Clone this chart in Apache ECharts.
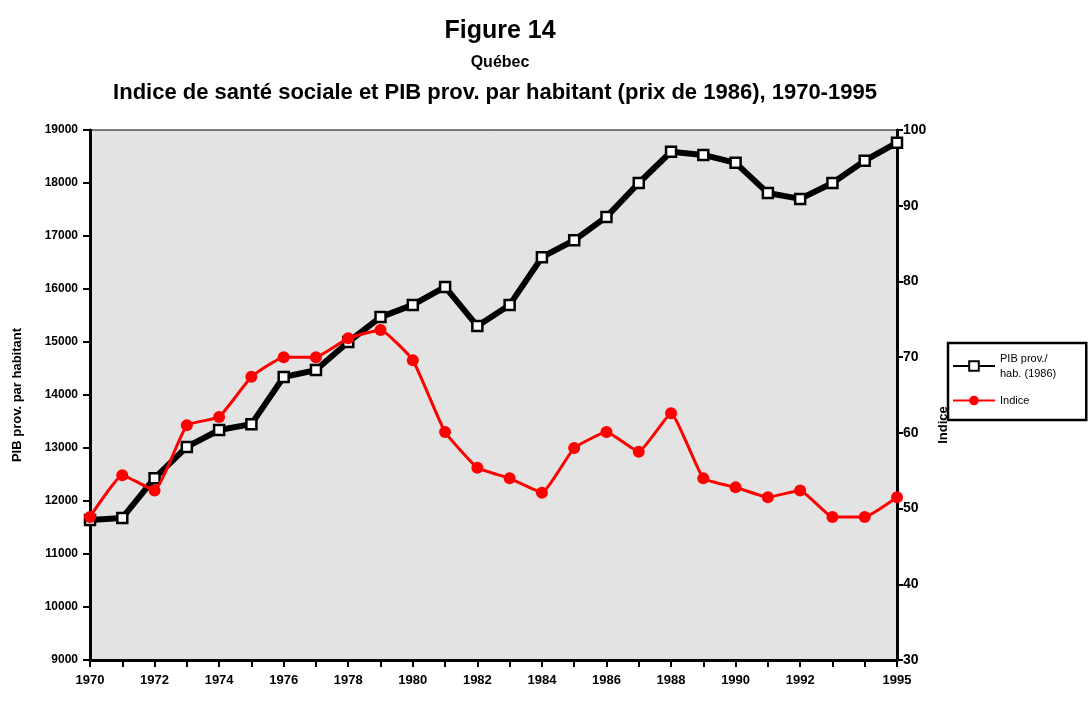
<!DOCTYPE html>
<html lang="fr">
<head>
    <meta charset="UTF-8">
    <script src="https://cdn.jsdelivr.net/npm/echarts@6/dist/echarts.min.js"></script>
    <title>Figure 14 - Québec</title>
    <style>
        html, body { margin: 0; height: 100%; background: #fff; }
        #container { width: 1090px; height: 702px; }
    </style>
</head>
<body>
<div id="container"></div>
<script type="application/javascript">
    // années 1970-1995
    const years = ['1970', '1971', '1972', '1973', '1974', '1975', '1976', '1977', '1978', '1979',
        '1980', '1981', '1982', '1983', '1984', '1985', '1986', '1987', '1988', '1989',
        '1990', '1991', '1992', '1993', '1994', '1995'];

    // PIB prov. par habitant (prix de 1986)
    const pib = [11640, 11680, 12430, 13020, 13340, 13450, 14340, 14470, 15000, 15470,
        15700, 16040, 15300, 15700, 16600, 16920, 17360, 18000, 18590, 18530,
        18380, 17810, 17700, 18000, 18420, 18760];

    // Indice de santé sociale
    const indice = [48.9, 54.4, 52.4, 61.0, 62.1, 67.4, 70.0, 70.0, 72.5, 73.6,
        69.6, 60.1, 55.4, 54.0, 52.1, 58.0, 60.1, 57.5, 62.6, 54.0,
        52.8, 51.5, 52.4, 48.9, 48.9, 51.5];

    const shownYears = ['1970', '1972', '1974', '1976', '1978', '1980', '1982', '1984',
        '1986', '1988', '1990', '1992', '1995'];

    const font = 'Liberation Sans';
    const chart = echarts.init(document.getElementById('container'), null, {renderer: 'canvas'});

    const option = {
        animation: false,
        title: [
            {
                text: 'Figure 14',
                left: 495, top: 14, textAlign: 'center',
                textStyle: {fontFamily: font, fontSize: 25, fontWeight: 'bold', color: '#000'}
            },
            {
                text: 'Québec',
                left: 495, top: 50, textAlign: 'center',
                textStyle: {fontFamily: font, fontSize: 16, fontWeight: 'bold', color: '#000'}
            },
            {
                text: 'Indice de santé sociale et PIB prov. par habitant (prix de 1986), 1970-1995',
                left: 490, top: 77, textAlign: 'center',
                textStyle: {fontFamily: font, fontSize: 22, fontWeight: 'bold', color: '#000'}
            }
        ],
        legend: {
            orient: 'vertical',
            left: 948, top: 343,
            width: 140,
            padding: [8, 30, 12, 4],
            itemGap: 12,
            itemWidth: 42, itemHeight: 12,
            borderColor: '#000', borderWidth: 2.5,
            backgroundColor: '#fff',
            textStyle: {fontFamily: font, fontSize: 11, color: '#000', lineHeight: 15},
            data: ['PIB prov./\nhab. (1986)', 'Indice']
        },
        grid: {
            left: 90, right: 193, top: 130, bottom: 42,
            show: true,
            backgroundColor: '#e3e3e3',
            borderColor: '#000', borderWidth: 1
        },
        xAxis: {
            type: 'category',
            data: years,
            boundaryGap: false,
            axisLine: {lineStyle: {color: '#000', width: 3}},
            axisTick: {interval: 0, length: 7, lineStyle: {color: '#000', width: 2}},
            axisLabel: {
                interval: 0,
                margin: 14,
                fontFamily: font, fontSize: 13, fontWeight: 'bold', color: '#000',
                formatter: function (v) {
                    return shownYears.indexOf(v) >= 0 ? v : '';
                }
            }
        },
        yAxis: [
            {
                type: 'value',
                min: 9000, max: 19000, interval: 1000,
                name: 'PIB prov. par habitant',
                nameLocation: 'middle',
                nameGap: 66,
                nameRotate: 90,
                nameTextStyle: {fontFamily: font, fontSize: 13, fontWeight: 'bold', color: '#000'},
                axisLine: {show: true, lineStyle: {color: '#000', width: 3}},
                axisTick: {show: true, length: 7, lineStyle: {color: '#000', width: 2}},
                splitLine: {show: false},
                axisLabel: {
                    fontFamily: font, fontSize: 12, fontWeight: 'bold', color: '#000', margin: 12,
                    formatter: function (v) { return String(v); }
                }
            },
            {
                type: 'value',
                min: 30, max: 100, interval: 10,
                position: 'right',
                name: 'Indice',
                nameLocation: 'middle',
                nameGap: 40,
                nameRotate: 90,
                nameTextStyle: {fontFamily: font, fontSize: 13, fontWeight: 'bold', color: '#000', padding: [0, 0, 0, -60]},
                axisLine: {show: true, lineStyle: {color: '#000', width: 3}},
                axisTick: {show: true, length: 6, lineStyle: {color: '#000', width: 2}},
                splitLine: {show: false},
                axisLabel: {fontFamily: font, fontSize: 14, fontWeight: 'bold', color: '#000', margin: 6}
            }
        ],
        series: [
            {
                name: 'PIB prov./\nhab. (1986)',
                type: 'line',
                yAxisIndex: 0,
                data: pib,
                symbol: 'rect',
                symbolSize: 10,
                lineStyle: {color: '#000', width: 6},
                itemStyle: {color: '#fff', borderColor: '#000', borderWidth: 2.5},
                z: 2
            },
            {
                name: 'Indice',
                type: 'line',
                yAxisIndex: 1,
                data: indice,
                smooth: 0.12,
                symbol: 'circle',
                symbolSize: 12,
                lineStyle: {color: '#ff0000', width: 3},
                itemStyle: {color: '#ff0000'},
                z: 3
            }
        ]
    };

    chart.setOption(option);
</script>
</body>
</html>
